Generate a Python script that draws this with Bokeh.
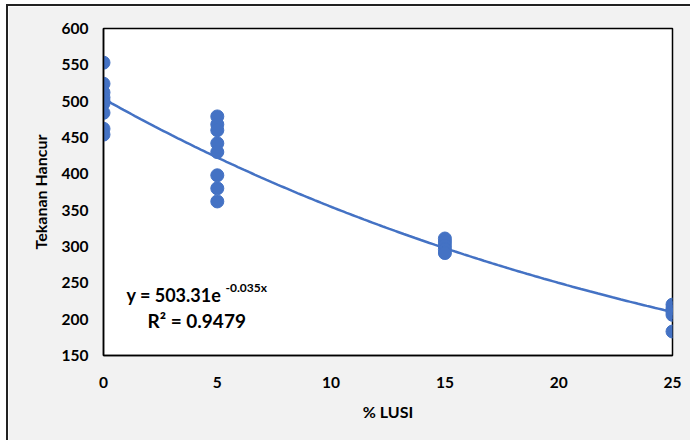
import numpy as np
from bokeh.plotting import figure
from bokeh.models import Range1d, FixedTicker, Label
from bokeh.embed import file_html
from bokeh.resources import INLINE

# Data
x0_vals = [553, 524, 512, 505, 500, 497, 484, 462, 454]
x5_vals = [479, 468, 460, 442, 430, 398, 380, 362]
x15_vals = [311, 306, 301, 296, 291]
x25_vals = [220, 215, 210, 206, 183]
lusi_levels = [0, 5, 15, 25]
x_ticks = [0, 5, 10, 15, 20, 25]
y_ticks = [150, 200, 250, 300, 350, 400, 450, 500, 550, 600]

# Exponential trendline parameters (from the chart equation)
trend_a = 503.31
trend_b = -0.035

xs, ys = [], []
for lvl, vals in zip(lusi_levels, [x0_vals, x5_vals, x15_vals, x25_vals]):
    xs += [lvl] * len(vals)
    ys += vals

BLUE = "#4472C4"
FONT = "Lato"

p = figure(width=684, height=436, output_backend="svg", toolbar_location=None,
           x_range=Range1d(0, 25), y_range=Range1d(150, 600),
           min_border_left=95, min_border_right=20, min_border_top=22, min_border_bottom=87)
p.styles = {"margin-left": "6px", "margin-top": "4px",
            "border-top": "2px solid #222", "border-left": "2px solid #222"}
p.border_fill_color = "#f2f2f2"
p.background_fill_color = "white"
p.outline_line_color = "black"
p.outline_line_width = 1.5
p.grid.visible = False

tx = np.linspace(0, 25, 200)
p.line(tx, trend_a * np.exp(trend_b * tx), line_color=BLUE, line_width=2.5)
p.scatter(xs, ys, size=13, fill_color=BLUE, line_color=BLUE)

for ax in (p.xaxis[0], p.yaxis[0]):
    ax.major_tick_line_color = None
    ax.minor_tick_line_color = None
    ax.axis_line_color = "black"
    ax.axis_line_width = 1.5
    ax.major_label_text_font = FONT
    ax.major_label_text_font_style = "bold"
    ax.major_label_text_font_size = "15.5px"
    ax.major_label_text_color = "black"
    ax.axis_label_text_font = FONT
    ax.axis_label_text_font_style = "bold"
    ax.axis_label_text_font_size = "16px"
    ax.axis_label_text_color = "black"

p.xaxis.ticker = FixedTicker(ticks=x_ticks)
p.yaxis.ticker = FixedTicker(ticks=y_ticks)
p.xaxis.axis_label = "% LUSI"
p.yaxis.axis_label = "Tekanan Hancur"
p.xaxis.major_label_standoff = 15
p.xaxis.axis_label_standoff = 11
p.yaxis.major_label_standoff = 9
p.yaxis.axis_label_standoff = 9

p.add_layout(Label(x=23, y=50, x_units="screen", y_units="screen",
                   text="y = 503.31e", text_font=FONT, text_font_style="bold",
                   text_font_size="18px", text_color="black"))
p.add_layout(Label(x=122, y=61, x_units="screen", y_units="screen",
                   text="-0.035x", text_font=FONT, text_font_style="bold",
                   text_font_size="12px", text_color="black"))
p.add_layout(Label(x=44, y=24, x_units="screen", y_units="screen",
                   text="R² = 0.9479", text_font=FONT, text_font_style="bold",
                   text_font_size="19px", text_color="black"))

open("out.html", "w").write(file_html(p, INLINE))
